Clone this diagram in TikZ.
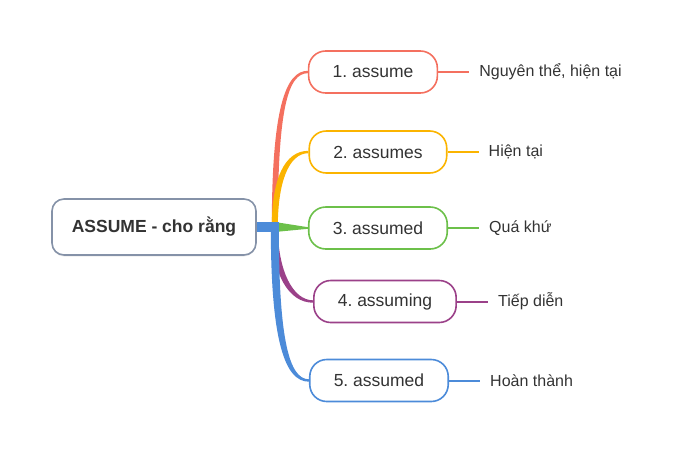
\documentclass[tikz,border=0pt]{standalone}
\usepackage{fontspec}
\setmainfont{Liberation Sans}
\frenchspacing
\usetikzlibrary{positioning,shadows}

\definecolor{txt}{HTML}{333333}
\definecolor{rootline}{HTML}{8592A8}
\definecolor{cone}{HTML}{F4705F}
\definecolor{ctwo}{HTML}{FBB400}
\definecolor{cthree}{HTML}{6CC04A}
\definecolor{cfour}{HTML}{9B4189}
\definecolor{cfive}{HTML}{4C8BD9}

\tikzset{
  root/.style={draw=rootline, line width=1.6pt, rounded corners=12pt, fill=white,
    minimum width=204pt, minimum height=56pt, text=txt,
    font=\fontsize{17.5}{21}\selectfont\bfseries,
    drop shadow={opacity=0.15, shadow xshift=0pt, shadow yshift=-1.5pt}},
  form/.style={draw=#1, line width=1.6pt, rounded corners=17pt, fill=white,
    inner xsep=24pt, minimum height=42pt, text=txt,
    font=\fontsize{17.5}{21}\selectfont},
  leaf/.style={inner sep=0pt, text=txt, font=\fontsize{16}{19}\selectfont},
  twig/.style={draw=#1, line width=2pt},
}

\begin{document}
\begin{tikzpicture}[x=1pt,y=-1pt]
  \useasboundingbox (0,0) rectangle (681,453);

  % root and the five forms
  \node[root] (root) at (154,227) {ASSUME - cho rằng};
  \coordinate (hub) at ([xshift=18pt]root.east);
  \node[form=cone]   (n1) at (373,72)    {1. assume};
  \node[form=ctwo]   (n2) at (378,152)   {2. assumes};
  \node[form=cthree] (n3) at (378,228)   {3. assumed};
  \node[form=cfour]  (n4) at (385,301.5) {4. assuming};
  \node[form=cfive]  (n5) at (379,380.5) {5. assumed};

  % meanings
  \node[leaf, right=41pt of n1] (l1) {Nguyên thể, hiện tại};
  \node[leaf, right=41pt of n2] (l2) {Hiện tại};
  \node[leaf, right=41pt of n3] (l3) {Quá khứ};
  \node[leaf, right=41pt of n4] (l4) {Tiếp diễn};
  \node[leaf, right=41pt of n5] (l5) {Hoàn thành};

  \draw[twig=cone]   (n1.east) -- ([xshift=-10pt]l1.west);
  \draw[twig=ctwo]   (n2.east) -- ([xshift=-10pt]l2.west);
  \draw[twig=cthree] (n3.east) -- ([xshift=-10pt]l3.west);
  \draw[twig=cfour]  (n4.east) -- ([xshift=-10pt]l4.west);
  \draw[twig=cfive]  (n5.east) -- ([xshift=-10pt]l5.west);

  % tapered branches
  \fill[cone] ([xshift=-3pt]hub) .. controls +(0,-120) and +(-22,0) .. ([yshift=1.2pt]n1.west)
    -- ([yshift=-1.2pt]n1.west) .. controls +(-20,0) and +(0,-118) .. ([xshift=3pt]hub) -- cycle;
  \fill[ctwo] ([xshift=-3pt]hub) .. controls +(0,-48) and +(-24,0) .. ([yshift=1.2pt]n2.west)
    -- ([yshift=-1.2pt]n2.west) .. controls +(-20,0) and +(0,-44) .. ([xshift=3pt]hub) -- cycle;
  \fill[cthree] ([yshift=5pt]hub) -- ([yshift=.8pt]n3.west)
    -- ([yshift=-.8pt]n3.west) -- ([yshift=-5pt]hub) -- cycle;
  \fill[cfour] ([xshift=-3pt]hub) .. controls +(0,48) and +(-24,0) .. ([yshift=-1.2pt]n4.west)
    -- ([yshift=1.2pt]n4.west) .. controls +(-20,0) and +(0,44) .. ([xshift=3pt]hub) -- cycle;
  \fill[cfive] ([xshift=-4pt]hub) .. controls +(0,115) and +(-24,0) .. ([yshift=-1.2pt]n5.west)
    -- ([yshift=1.2pt]n5.west) .. controls +(-20,0) and +(0,112) .. ([xshift=4pt]hub) -- cycle;
  \fill[cfive] ([yshift=5pt]root.east) rectangle ([xshift=4pt,yshift=-5pt]hub);
\end{tikzpicture}
\end{document}
